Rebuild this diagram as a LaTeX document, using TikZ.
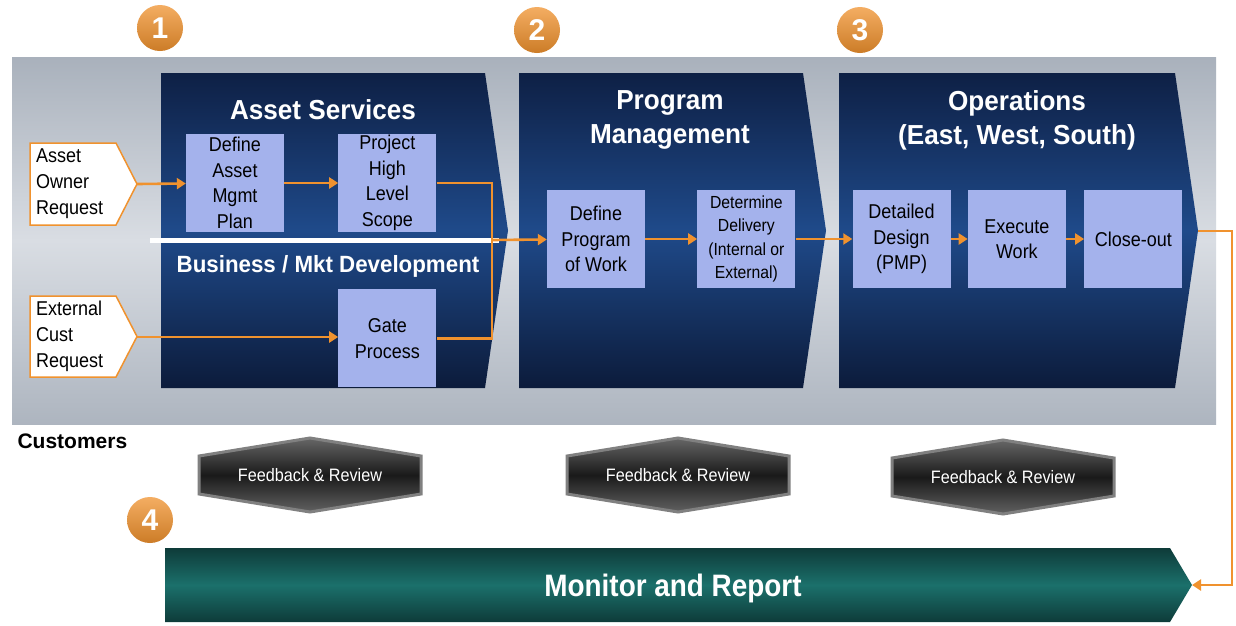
\documentclass[tikz,border=0pt]{standalone}
\usepackage{fontspec}
\setmainfont{Liberation Sans}
\newfontfamily\narrowfont{Liberation Sans}[FakeStretch=0.9]
\newfontfamily\titlefont{Liberation Sans}[FakeStretch=0.95]
\usetikzlibrary{positioning,arrows.meta}
\definecolor{boxblue}{HTML}{A4B2EC}
\definecolor{flowor}{HTML}{F0922E}
\definecolor{navydark}{HTML}{0E2045}
\definecolor{navymid}{HTML}{1F4A8A}
\definecolor{paneltop}{HTML}{A9B1BC}
\definecolor{panelmid}{HTML}{D9DDE3}
\definecolor{tealdark}{HTML}{0E3B39}
\definecolor{tealmid}{HTML}{1B706B}
\tikzset{
  flow/.style={draw=flowor,line width=2.6pt,-{Triangle[length=9pt,width=11pt]}},
  flowline/.style={draw=flowor,line width=2.6pt},
}
\begin{document}
\begin{tikzpicture}[x=1pt,y=-1pt,
  stage/.style={top color=navydark,bottom color=navydark!85!black,middle color=navymid},
  stepbox/.style={fill=boxblue,minimum width=98pt,minimum height=98pt,inner sep=0pt,align=center,
    font=\narrowfont\fontsize{20}{25.5}\selectfont},
  smallbox/.style={stepbox,font=\narrowfont\fontsize{17.5}{23.5}\selectfont},
  inbox/.style={fill=white,draw=flowor,line width=1.5pt},
  intext/.style={anchor=west,align=left,inner sep=0pt,font=\narrowfont\fontsize{20}{26}\selectfont},
  title/.style={text=white,align=center,font=\titlefont\bfseries\fontsize{27.5}{34}\selectfont},
  badge/.style={circle,minimum size=46pt,inner sep=0pt,top color=flowor!75!white,bottom color=flowor!85!black,
    text=white,font=\bfseries\fontsize{30}{30}\selectfont},
  fbhex/.style={draw=black!50,line width=3pt,top color=black!60,bottom color=black!62,middle color=black!90},
  fbtext/.style={text=white,font=\narrowfont\fontsize{18}{20}\selectfont},
]
\useasboundingbox (0,0) rectangle (1236,625);
\fill[white] (0,0) rectangle (1236,625);
% grey customer panel
\path[top color=paneltop,bottom color=paneltop!95!white,middle color=panelmid] (12,57) rectangle (1216,424);

% three stages
\foreach \xl/\xr in {161/485, 519/803, 839/1175}
  \path[stage] (\xl,73) -- (\xr,73) -- (\xr+23,230.5) -- (\xr,388) -- (\xl,388) -- cycle;
\coordinate (opstip) at (1198,231);

\node[title] (asset) at (323,110) {Asset Services};
\node[title,font=\titlefont\bfseries\fontsize{23.5}{28}\selectfont] (bizdev) at (328,266) {Business / Mkt Development};
\node[title] (progmgmt) at (670,120) {Program\\Management};
\node[title] (ops) at (1017,120) {Operations\\(East, West, South)};

\draw[white,line width=5pt] (150,240) -- (499,240);

% badges
\node[badge] (b1) at (160,28) {1};
\node[badge] (b2) at (537,30) {2};
\node[badge] (b3) at (860,30) {3};
\node[badge] (b4) at (150,520) {4};

% requests
\path[inbox] (30,143) -- (116,143) -- (137,184) -- (116,225) -- (30,225) -- cycle;
\path[inbox] (30,296) -- (116,296) -- (137,336.5) -- (116,377) -- (30,377) -- cycle;
\coordinate (aortip) at (137,184);
\coordinate (ecrtip) at (137,337);
\node[intext] (aor) at (36,184) {Asset\\Owner\\Request};
\node[intext] (ecr) at (36,336) {External\\Cust\\Request};

% boxes
\node[stepbox] (defplan) at (235,183) {Define\\Asset\\Mgmt\\Plan};
\node[stepbox,right=54pt of defplan] (scope) {Project\\High\\Level\\Scope};
\node[stepbox,below=57pt of scope] (gate) {Gate\\Process};
\node[stepbox] (defprog) at (596,239) {Define\\Program\\of Work};
\node[smallbox,right=52pt of defprog] (deliv) {Determine\\Delivery\\(Internal or\\External)};
\node[stepbox] (design) at (901.5,239) {Detailed\\Design\\(PMP)};
\node[stepbox,right=17pt of design] (exec) {Execute\\Work};
\node[stepbox,right=18pt of exec] (close) {Close-out};

\coordinate (join) at (492,240);
\draw[flow] (aortip) -- (defplan);
\draw[flow] (defplan) -- (scope);
\draw[flow] (ecrtip) -- (gate.west |- ecrtip);
\draw[flowline] (scope.east) -| (join) |- (gate.east);
\draw[flow] (join) -- (defprog);
\draw[flow] (defprog) -- (deliv);
\draw[flow] (deliv) -- (design);
\draw[flow] (design) -- (exec);
\draw[flow] (exec) -- (close);

\node[font=\bfseries\fontsize{21}{24}\selectfont,anchor=west] (cust) at (14,441) {Customers};

% feedback
\foreach \cx/\cy [count=\i] in {310/475, 678/475, 1003/477} {
  \path[fbhex] (\cx-111,\cy-19) -- (\cx,\cy-37) -- (\cx+111,\cy-19) -- (\cx+111,\cy+19)
    -- (\cx,\cy+37) -- (\cx-111,\cy+19) -- cycle;
  \node[fbtext] (fb\i) at (\cx,\cy) {Feedback \& Review};
}

% monitor bar
\path[top color=tealdark,bottom color=tealdark,middle color=tealmid] (165,548) -- (1170,548) -- (1192,585) -- (1170,622) -- (165,622) -- cycle;
\coordinate (montip) at (1192,585);
\coordinate (turn) at (1232,585);
\node[text=white,font=\narrowfont\bfseries\fontsize{31}{36}\selectfont] (monitor) at (673,588) {Monitor and Report};
\draw[flow] (opstip) -| (turn) -- (montip);
\end{tikzpicture}
\end{document}
